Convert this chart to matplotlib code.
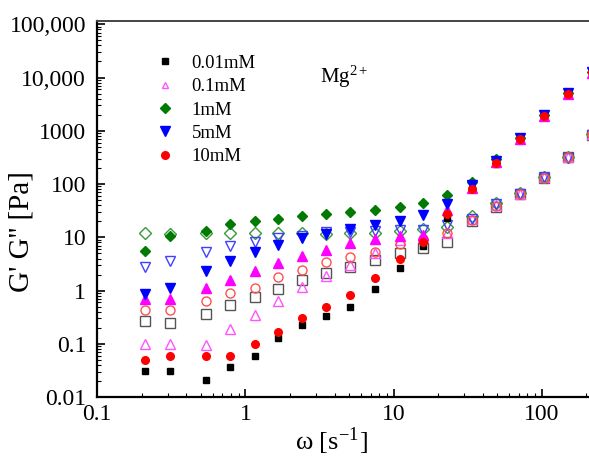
import numpy as np
import matplotlib
matplotlib.use("Agg")
import matplotlib.pyplot as plt
from matplotlib.ticker import LogLocator, NullFormatter

plt.rcParams["font.family"] = ["Liberation Serif", "DejaVu Serif"]
plt.rcParams["mathtext.fontset"] = "stix"

# angular frequency [1/s]
omega = [0.21, 0.31, 0.54, 0.79, 1.16, 1.66, 2.4, 3.5, 5.1, 7.5, 11, 15.8, 23, 34, 49, 71, 104, 151, 218]

# filled markers
g_001_f = [0.031, 0.031, 0.021, 0.036, 0.059, 0.13, 0.23, 0.34, 0.49, 1.07, 2.7, 7.0, 23, 80, 240, 700, 1900, 5000, 12500]
g_01_f = [0.69, 0.69, 1.1, 1.6, 2.3, 3.3, 4.4, 5.7, 7.8, 9.2, 10.5, 11, 32, 85, 260, 710, 1900, 5000, 12400]
g_1_f = [5.5, 10.5, 13, 17.7, 20, 22, 25, 28, 30, 33, 37, 44, 61, 110, 290, 740, 2000, 5100, 12800]
g_5_f = [0.85, 1.1, 2.3, 3.6, 5.3, 7.1, 9.6, 11.5, 14.5, 17, 20, 26, 42, 95, 270, 720, 1950, 5050, 12600]
g_10_f = [0.049, 0.059, 0.059, 0.059, 0.10, 0.17, 0.30, 0.49, 0.82, 1.7, 3.9, 8.3, 27, 80, 250, 700, 1900, 5000, 12500]

# open markers
g_001_o = [0.27, 0.245, 0.36, 0.53, 0.75, 1.07, 1.56, 2.1, 2.75, 3.7, 5.0, 6.2, 8.3, 20, 37, 65, 130, 320, 850]
g_01_o = [0.10, 0.10, 0.094, 0.19, 0.35, 0.63, 1.15, 1.9, 3.0, 5.0, 9.0, 10, 12, 22, 40, 66, 135, 320, 860]
g_1_o = [12, 11.5, 12, 12, 12, 12, 12, 11.5, 12, 12, 13, 14.5, 15.6, 25, 45, 68, 138, 325, 870]
g_5_o = [2.75, 3.6, 5.2, 6.8, 8.1, 9.6, 10.5, 12.5, 12.5, 13, 13.5, 14, 17, 22, 42, 66, 133, 315, 850]
g_10_o = [0.43, 0.44, 0.63, 0.89, 1.10, 1.78, 2.4, 3.5, 4.2, 5.2, 7.4, 9.3, 12, 21, 38, 65, 132, 318, 855]

fig = plt.figure(figsize=(5.89, 4.57), dpi=100)
ax = fig.add_axes([0.165, 0.131, 0.845, 0.823])

ms = 5
kw_o = dict(linestyle="none", markerfacecolor="none", markeredgewidth=1.0, markersize=ms + 1.5)
ax.plot(omega, g_001_o, "s", color="#555555", **kw_o)
ax.plot(omega, g_01_o, "^", color="#ff55ff", **kw_o)
ax.plot(omega, g_1_o, "D", color="#3a9a3a", **kw_o)
ax.plot(omega, g_5_o, "v", color="#4040ff", **kw_o)
ax.plot(omega, g_10_o, "o", color="#ff5050", **kw_o)

h1, = ax.plot(omega, g_001_f, "s", color="black", linestyle="none", markersize=ms, label="0.01mM")
ax.plot(omega, g_01_f, "^", color="#ff00ff", linestyle="none", markersize=ms + 1.5)
h3, = ax.plot(omega, g_1_f, "D", color="#007a00", linestyle="none", markersize=ms, label="1mM")
h4, = ax.plot(omega, g_5_f, "v", color="#0000ff", linestyle="none", markersize=ms + 1.5, label="5mM")
h5, = ax.plot(omega, g_10_f, "o", color="#ff0000", linestyle="none", markersize=ms + 0.5, label="10mM")
h2, = ax.plot([], [], "^", color="#ff55ff", markerfacecolor="none", markeredgewidth=1.0,
              linestyle="none", markersize=ms, label="0.1mM")

ax.set_xscale("log")
ax.set_yscale("log")
ax.set_xlim(0.1, 228)
ax.set_ylim(0.01, 1.15e5)

ax.set_xticks([0.1, 1, 10, 100])
ax.set_xticklabels(["0.1", "1", "10", "100"])
ax.set_yticks([0.01, 0.1, 1, 10, 100, 1000, 10000, 100000])
ax.set_yticklabels(["0.01", "0.1", "1", "10", "100", "1000", "10,000", "100,000"])
ax.xaxis.set_minor_locator(LogLocator(base=10, subs=np.arange(2, 10)))
ax.yaxis.set_minor_locator(LogLocator(base=10, subs=np.arange(2, 10)))
ax.xaxis.set_minor_formatter(NullFormatter())
ax.yaxis.set_minor_formatter(NullFormatter())

ax.tick_params(axis="both", which="major", direction="in", length=6, width=1.2, labelsize=17, pad=5)
ax.tick_params(axis="y", which="major", pad=8)
ax.tick_params(axis="both", which="minor", direction="in", length=3, width=0.8)
ax.tick_params(top=False, right=False)

for s in ["left", "bottom"]:
    ax.spines[s].set_linewidth(1.6)
ax.spines["top"].set_linewidth(1.4)
ax.spines["top"].set_color("#444444")

ax.set_xlabel(r"ω [s$^{\mathregular{-1}}$]", fontsize=19)
ax.xaxis.set_label_coords(0.47, -0.075)
ax.set_ylabel("G' G'' [Pa]", fontsize=21)
ax.yaxis.set_label_coords(-0.125, 0.44)

ax.legend(handles=[h1, h2, h3, h4, h5], loc="upper left", bbox_to_anchor=(0.08, 0.955),
          frameon=False, fontsize=13.5, handletextpad=0.8, labelspacing=0.33, handlelength=1.2)

ax.text(0.447, 0.835, r"Mg$^{\mathregular{2+}}$", transform=ax.transAxes, fontsize=15)

fig.savefig("out.png", dpi=100)
